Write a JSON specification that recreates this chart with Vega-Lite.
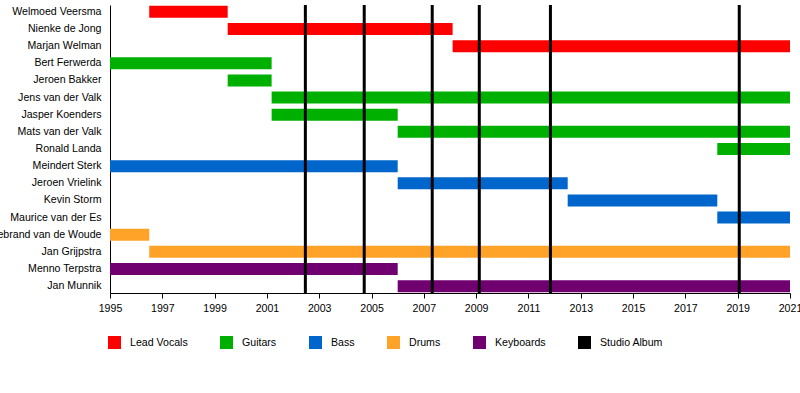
{
  "$schema": "https://vega.github.io/schema/vega-lite/v6.json",
  "width": 680,
  "height": 288,
  "autosize": "none",
  "padding": {"left": 110, "top": 5, "right": 10, "bottom": 100},
  "config": {
    "view": {"stroke": null},
    "font": "Liberation Sans",
    "axis": {"labelFont": "Liberation Sans", "labelFontSize": 10.6, "labelColor": "#000", "domainColor": "#000", "tickColor": "#000", "grid": false, "title": null},
    "legend": {"labelFont": "Liberation Sans", "labelFontSize": 10.6, "labelColor": "#000"}
  },
  "datasets": {
    "members": [
      {"name": "Welmoed Veersma", "role": "Lead Vocals", "start": 1996.5, "end": 1999.5},
      {"name": "Nienke de Jong", "role": "Lead Vocals", "start": 1999.5, "end": 2008.1},
      {"name": "Marjan Welman", "role": "Lead Vocals", "start": 2008.1, "end": 2021},
      {"name": "Bert Ferwerda", "role": "Guitars", "start": 1995, "end": 2001.18},
      {"name": "Jeroen Bakker", "role": "Guitars", "start": 1999.5, "end": 2001.18},
      {"name": "Jens van der Valk", "role": "Guitars", "start": 2001.18, "end": 2021},
      {"name": "Jasper Koenders", "role": "Guitars", "start": 2001.18, "end": 2006.0},
      {"name": "Mats van der Valk", "role": "Guitars", "start": 2006.0, "end": 2021},
      {"name": "Ronald Landa", "role": "Guitars", "start": 2018.22, "end": 2021},
      {"name": "Meindert Sterk", "role": "Bass", "start": 1995, "end": 2006.0},
      {"name": "Jeroen Vrielink", "role": "Bass", "start": 2006.0, "end": 2012.5},
      {"name": "Kevin Storm", "role": "Bass", "start": 2012.5, "end": 2018.22},
      {"name": "Maurice van der Es", "role": "Bass", "start": 2018.22, "end": 2021},
      {"name": "Hillebrand van de Woude", "role": "Drums", "start": 1995, "end": 1996.5},
      {"name": "Jan Grijpstra", "role": "Drums", "start": 1996.5, "end": 2021},
      {"name": "Menno Terpstra", "role": "Keyboards", "start": 1995, "end": 2006.0},
      {"name": "Jan Munnik", "role": "Keyboards", "start": 2006.0, "end": 2021}
    ],
    "albums": [
      {"year": 2002.47, "type": "Studio Album"},
      {"year": 2004.72, "type": "Studio Album"},
      {"year": 2007.32, "type": "Studio Album"},
      {"year": 2009.12, "type": "Studio Album"},
      {"year": 2011.84, "type": "Studio Album"},
      {"year": 2019.06, "type": "Studio Album"}
    ]
  },
  "layer": [
    {
      "data": {"name": "members"},
      "mark": {"type": "bar", "cornerRadius": 0},
      "encoding": {
        "y": {
          "field": "name", "type": "nominal",
          "sort": ["Welmoed Veersma", "Nienke de Jong", "Marjan Welman", "Bert Ferwerda", "Jeroen Bakker", "Jens van der Valk", "Jasper Koenders", "Mats van der Valk", "Ronald Landa", "Meindert Sterk", "Jeroen Vrielink", "Kevin Storm", "Maurice van der Es", "Hillebrand van de Woude", "Jan Grijpstra", "Menno Terpstra", "Jan Munnik"],
          "scale": {"paddingInner": 0.3, "paddingOuter": 0.05},
          "axis": {"ticks": false, "labelPadding": 9, "domainWidth": 1}
        },
        "x": {
          "field": "start", "type": "quantitative",
          "scale": {"domain": [1995, 2021], "nice": false, "zero": false},
          "axis": {
            "values": [1995,1996,1997,1998,1999,2000,2001,2002,2003,2004,2005,2006,2007,2008,2009,2010,2011,2012,2013,2014,2015,2016,2017,2018,2019,2020,2021],
            "format": "d",
            "labelExpr": "datum.value % 2 == 1 ? datum.label : ''",
            "labelOverlap": false,
            "labelFlush": false,
            "tickSize": {"condition": {"test": "datum.value % 2 == 0", "value": 3}, "value": 5},
            "labelPadding": 5
          }
        },
        "x2": {"field": "end"},
        "color": {
          "field": "role", "type": "nominal",
          "scale": {
            "domain": ["Lead Vocals", "Guitars", "Bass", "Drums", "Keyboards", "Studio Album"],
            "range": ["#ff0000", "#00b000", "#0066cc", "#ffa228", "#700070", "#000000"]
          },
          "legend": {
            "title": null,
            "orient": "none",
            "direction": "horizontal",
            "columns": 6,
            "legendX": -2,
            "legendY": 331,
            "symbolType": "square",
            "symbolSize": 169,
            "symbolStrokeWidth": 0,
            "symbolOpacity": 1,
            "labelOffset": 9,
            "columnPadding": 32
          }
        }
      }
    },
    {
      "data": {"name": "albums"},
      "mark": {"type": "rule", "strokeWidth": 3},
      "encoding": {
        "x": {"field": "year", "type": "quantitative"},
        "color": {"field": "type", "type": "nominal"}
      }
    }
  ]
}
